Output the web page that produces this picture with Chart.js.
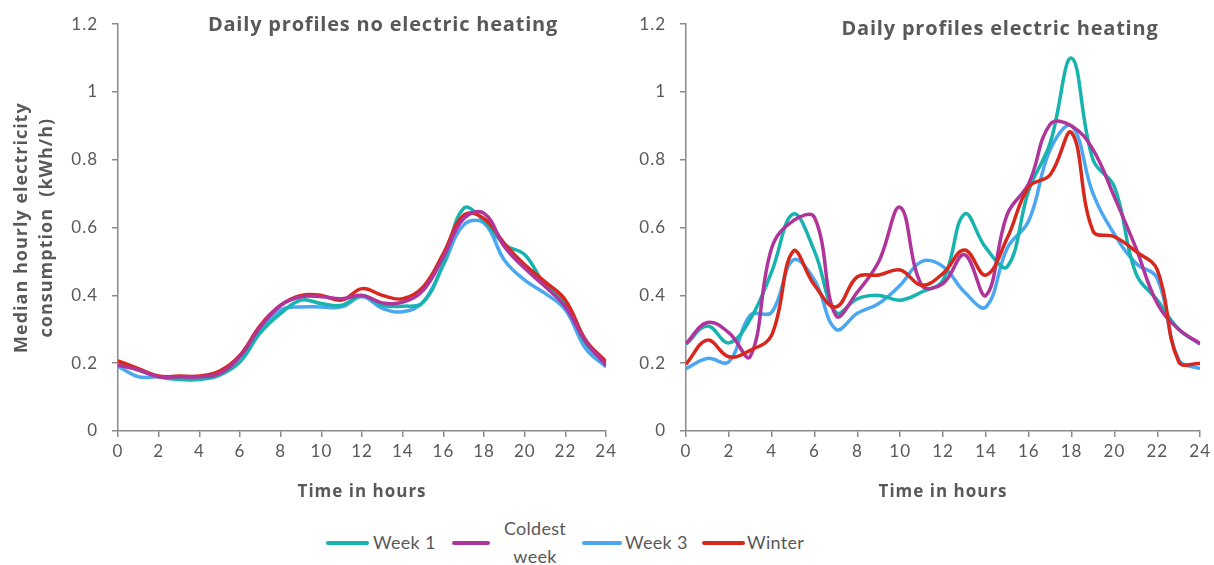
<!DOCTYPE html>
<html>
<head>
<meta charset="utf-8">
<title>Daily profiles</title>
<script src="https://cdn.jsdelivr.net/npm/chart.js@4.4.1/dist/chart.umd.min.js"></script>
<style>
  body { margin: 0; background: #fff; }
  #wrap { position: relative; width: 1214px; height: 565px; overflow: hidden; font-family: Lato, "Open Sans", sans-serif; color: #595959; }
  canvas { position: absolute; top: 0; }
  #leftChart { left: 0; }
  #rightChart { left: 620px; }
  .sw { position: absolute; height: 4px; top: 541px; border-radius: 2px; }
  .lbl { position: absolute; font-size: 18px; line-height: 22px; letter-spacing: 0.3px; }
</style>
</head>
<body>
<div id="wrap">
  <canvas id="leftChart" width="620" height="510"></canvas>
  <canvas id="rightChart" width="594" height="510"></canvas>

  <!-- legend shared by both panels -->
  <div class="sw" style="left:326px;width:43px;background:#17b3ae"></div>
  <div class="lbl" style="left:373px;top:531px">Week 1</div>
  <div class="sw" style="left:452px;width:38px;background:#b0359a"></div>
  <div class="lbl" style="left:500px;top:514px;width:70px;text-align:center;line-height:28px">Coldest<br>week</div>
  <div class="sw" style="left:582px;width:40px;background:#4ba8f0"></div>
  <div class="lbl" style="left:625px;top:531px">Week 3</div>
  <div class="sw" style="left:702px;width:43px;background:#d8281e"></div>
  <div class="lbl" style="left:747px;top:531px">Winter</div>
</div>

<script>
// ---- data (median kWh/h per hour of day) ----
const hours = [0, 1, 2, 3, 4, 5, 6, 7, 8, 9, 10, 11, 12, 13, 14, 15, 16, 17, 18, 19, 20, 21, 22, 23, 24];
const yTicks = ["0", "0.2", "0.4", "0.6", "0.8", "1", "1.2"];

// no electric heating
const noHeatWeek1   = [0.204, 0.18, 0.16, 0.152, 0.152, 0.165, 0.204, 0.29, 0.347, 0.386, 0.376, 0.371, 0.40, 0.371, 0.368, 0.38, 0.495, 0.657, 0.62, 0.55, 0.52, 0.43, 0.376, 0.258, 0.199];
const noHeatColdest = [0.194, 0.18, 0.16, 0.16, 0.16, 0.17, 0.22, 0.307, 0.371, 0.396, 0.396, 0.39, 0.40, 0.378, 0.38, 0.415, 0.514, 0.627, 0.642, 0.544, 0.48, 0.426, 0.366, 0.263, 0.194];
const noHeatWeek3   = [0.191, 0.16, 0.16, 0.155, 0.157, 0.17, 0.22, 0.298, 0.357, 0.366, 0.366, 0.366, 0.396, 0.362, 0.352, 0.38, 0.49, 0.608, 0.613, 0.504, 0.445, 0.406, 0.357, 0.243, 0.189];
const noHeatWinter  = [0.207, 0.184, 0.162, 0.162, 0.162, 0.177, 0.224, 0.312, 0.371, 0.40, 0.40, 0.386, 0.42, 0.40, 0.39, 0.425, 0.524, 0.637, 0.627, 0.553, 0.49, 0.44, 0.386, 0.268, 0.204];

// electric heating
const heatWeek1   = [0.256, 0.31, 0.26, 0.33, 0.47, 0.64, 0.53, 0.35, 0.39, 0.40, 0.386, 0.41, 0.445, 0.64, 0.54, 0.485, 0.71, 0.85, 1.10, 0.80, 0.72, 0.465, 0.386, 0.30, 0.256];
const heatColdest = [0.258, 0.32, 0.29, 0.22, 0.54, 0.62, 0.63, 0.34, 0.41, 0.50, 0.66, 0.43, 0.435, 0.52, 0.40, 0.64, 0.73, 0.905, 0.90, 0.83, 0.69, 0.54, 0.376, 0.30, 0.258];
const heatWeek3   = [0.184, 0.214, 0.204, 0.342, 0.35, 0.504, 0.445, 0.30, 0.347, 0.376, 0.43, 0.50, 0.485, 0.41, 0.366, 0.54, 0.62, 0.83, 0.90, 0.70, 0.58, 0.495, 0.45, 0.21, 0.184];
const heatWinter  = [0.197, 0.268, 0.219, 0.238, 0.283, 0.53, 0.43, 0.366, 0.455, 0.46, 0.475, 0.43, 0.465, 0.534, 0.46, 0.57, 0.72, 0.756, 0.88, 0.59, 0.573, 0.53, 0.475, 0.204, 0.199];

const colors = { week1: "#17b3ae", coldest: "#b0359a", week3: "#4ba8f0", winter: "#d8281e" };
const textColor = "#595959";
const axisColor = "#8a8a8a";
const fontFamily = "Lato, 'Open Sans', sans-serif";
const boldFamily = "'Open Sans', Lato, sans-serif";

const toPoints = vals => vals.map((v, i) => ({ x: hours[i], y: v }));

function series(label, vals, color) {
  return {
    label,
    data: toPoints(vals),
    borderColor: color,
    backgroundColor: color,
    borderWidth: 3.5,
    pointRadius: 0,
    tension: 0.4,
    fill: false
  };
}

// slightly looser text, like the Office renderer
const spacedText = {
  id: "spacedText",
  beforeDraw(chart) {
    chart.ctx.letterSpacing = "1px";
  }
};

// panel heading drawn inside the plot area, Excel style
const panelTitle = {
  id: "panelTitle",
  afterDraw(chart, args, opts) {
    const ctx = chart.ctx;
    ctx.save();
    ctx.font = "bold 20px " + boldFamily;
    ctx.letterSpacing = "0.8px";
    ctx.fillStyle = textColor;
    ctx.textAlign = "center";
    ctx.textBaseline = "middle";
    ctx.fillText(opts.text, opts.x, opts.y);
    ctx.restore();
  }
};

function buildOptions(cfg) {
  return {
    responsive: false,
    animation: false,
    layout: { padding: { left: 0, right: cfg.padRight, top: 24, bottom: 0 } },
    plugins: {
      legend: { display: false },
      tooltip: { enabled: false },
      panelTitle: { text: cfg.title, x: cfg.titleX, y: cfg.titleY }
    },
    scales: {
      x: {
        type: "linear",
        min: 0,
        max: 24,
        afterFit: s => { s.height = 79; },
        ticks: { stepSize: 2, color: textColor, padding: 4, font: { family: fontFamily, size: 17 } },
        grid: { display: true, drawOnChartArea: false, drawTicks: true, tickLength: 6, color: axisColor, lineWidth: 1.5 },
        border: { color: axisColor, width: 1.5 },
        title: {
          display: true,
          text: "Time in hours",
          color: textColor,
          font: { family: boldFamily, size: 17, weight: "bold" },
          padding: { top: 0, bottom: 8 }
        }
      },
      y: {
        min: 0,
        max: 1.2,
        afterFit: s => { s.width = cfg.yWidth; },
        ticks: {
          stepSize: 0.2,
          color: textColor,
          padding: 14,
          font: { family: fontFamily, size: 17 },
          callback: v => yTicks[Math.round(v / 0.2)]
        },
        grid: { display: true, drawOnChartArea: false, drawTicks: true, tickLength: 6, color: axisColor, lineWidth: 1.5 },
        border: { color: axisColor, width: 1.5 },
        title: cfg.yTitle
      }
    }
  };
}

// first dataset ends up on top
new Chart(document.getElementById("leftChart"), {
  type: "line",
  data: {
    datasets: [
      series("Coldest week", noHeatColdest, colors.coldest),
      series("Winter", noHeatWinter, colors.winter),
      series("Week 1", noHeatWeek1, colors.week1),
      series("Week 3", noHeatWeek3, colors.week3)
    ]
  },
  options: buildOptions({
    title: "Daily profiles no electric heating",
    titleX: 383, titleY: 25,
    padRight: 13, yWidth: 118,
    yTitle: {
      display: true,
      text: ["Median hourly electricity", "consumption  (kWh/h)"],
      color: textColor,
      font: { family: boldFamily, size: 18, weight: "bold", lineHeight: 1.4 },
      padding: { top: 9, bottom: 0 }
    }
  }),
  plugins: [spacedText, panelTitle]
});

new Chart(document.getElementById("rightChart"), {
  type: "line",
  data: {
    datasets: [
      series("Winter", heatWinter, colors.winter),
      series("Coldest week", heatColdest, colors.coldest),
      series("Week 1", heatWeek1, colors.week1),
      series("Week 3", heatWeek3, colors.week3)
    ]
  },
  options: buildOptions({
    title: "Daily profiles electric heating",
    titleX: 380, titleY: 29,
    padRight: 12, yWidth: 66,
    yTitle: { display: false }
  }),
  plugins: [spacedText, panelTitle]
});
</script>
</body>
</html>
